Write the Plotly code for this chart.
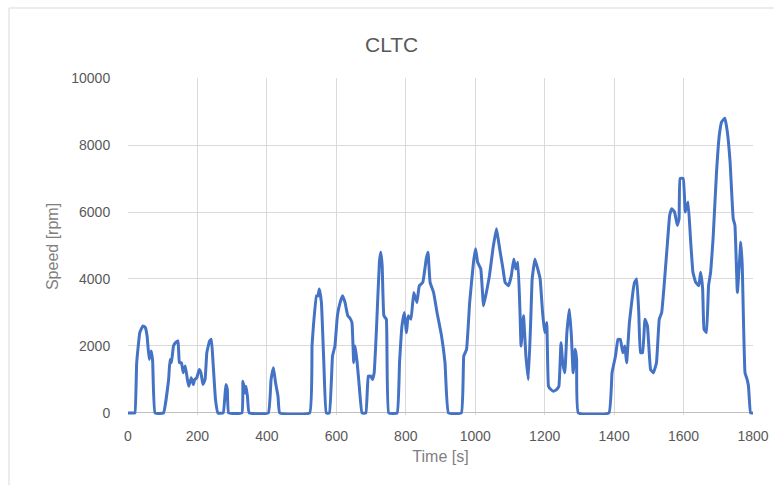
import plotly.graph_objects as go

time_s = [0, 15, 20, 25, 34, 43, 50, 55, 61, 67, 71, 78, 102,
          117, 121, 125, 131, 137, 144, 148, 154, 159, 165, 171, 175, 182, 188, 192, 198,
          205, 210, 216, 222, 227, 235, 240, 245, 252, 259, 274, 282, 286, 290,
          328, 331, 337, 340, 344, 349, 404, 412, 419, 425, 432, 437,
          523, 530, 534, 543, 547, 551, 557, 564, 571, 580, 589, 596, 603, 611, 618, 625,
          633, 638, 645, 650, 654, 660, 666, 674, 685, 692, 699, 704, 709, 716, 724, 728,
          732, 737, 744, 751, 775, 782, 789, 796, 802, 807, 815, 823, 832, 839, 849, 859,
          864, 870, 880, 890, 903, 913, 923, 960, 967, 975, 984, 995, 1001, 1007, 1016,
          1024, 1034, 1041, 1051, 1061, 1066, 1072, 1080, 1086, 1096, 1104, 1111, 1117,
          1123, 1129, 1132, 1139, 1146, 1153, 1160, 1164, 1172, 1180, 1187, 1194, 1200,
          1206, 1211, 1218, 1225, 1234, 1241, 1247, 1252, 1258, 1264, 1271, 1277, 1282,
          1288, 1292, 1297, 1385, 1394, 1404, 1411, 1418, 1425, 1431, 1436, 1444, 1454,
          1459, 1465, 1471, 1476, 1482, 1489, 1496, 1505, 1513, 1522, 1530, 1537, 1544,
          1553, 1560, 1566, 1574, 1582, 1587, 1590, 1599, 1605, 1613, 1620, 1627, 1635,
          1644, 1649, 1655, 1659, 1666, 1672, 1678, 1685, 1695, 1703, 1710, 1719, 1726,
          1734, 1743, 1748, 1755, 1765, 1769, 1777, 1783, 1787, 1793, 1800]

speed_rpm = [0, 0, 0, 1500, 2400, 2600, 2550, 2300, 1600, 1850, 1550, 0, 0,
             1000, 1600, 1500, 2000, 2100, 2150, 1500, 1500, 1200, 1400, 1000, 800, 1050, 850, 1000, 1050,
             1300, 1200, 850, 1000, 1800, 2150, 2200, 1500, 400, 0, 0, 850, 700, 0,
             0, 950, 600, 800, 500, 0, 0, 1000, 1350, 900, 500, 0,
             0, 2000, 2600, 3500, 3500, 3700, 3300, 1500, 0, 0, 1700, 2000, 2900, 3300, 3500, 3300,
             2900, 2850, 2700, 1500, 2000, 1500, 800, 0, 0, 1100, 1100, 1000, 1200, 2600, 4500, 4800,
             4400, 2900, 2800, 0, 0, 1500, 2600, 3000, 2400, 2900, 2800, 3600, 3300, 3800, 3900, 4600,
             4800, 3900, 3600, 3000, 2300, 1500, 0, 0, 1700, 1900, 3300, 4500, 4900, 4500, 4300,
             3200, 3700, 4100, 4900, 5500, 5200, 4800, 4300, 3900, 3800, 4100, 4600, 4300,
             4500, 3000, 2000, 2900, 1700, 1000, 2800, 4000, 4600, 4300, 4000, 3000, 2400,
             2700, 800, 700, 650, 700, 800, 2100, 1500, 1200, 2400, 3100, 2300, 1200,
             1900, 1600, 0, 0, 1200, 1700, 2200, 2200, 1800, 2000, 1500, 2700, 3600,
             3900, 4000, 3000, 1800, 1800, 2800, 2600, 1300, 1200, 1500, 2800, 3000, 3800,
             5000, 5900, 6100, 6000, 5600, 5800, 7000, 7000, 6000, 6300, 5200, 4200, 3900,
             3800, 4200, 3700, 2500, 2400, 3800, 4200, 5200, 7200, 8300, 8700, 8800, 8400,
             7500, 5800, 5600, 3600, 5100, 4400, 1200, 1000, 800, 0, 0]

x_ticks = [0, 200, 400, 600, 800, 1000, 1200, 1400, 1600, 1800]
y_ticks = [0, 2000, 4000, 6000, 8000, 10000]

fig = go.Figure()
fig.add_trace(go.Scatter(
    x=time_s, y=speed_rpm, mode="lines",
    line=dict(color="#4472C4", width=3, shape="spline", smoothing=0.3),
    showlegend=False, hoverinfo="skip",
))

W, H = 774, 485
L, R, T, B = 128, 21, 78, 70
fig.update_layout(
    width=W, height=H,
    margin=dict(l=L, r=R, t=T, b=B, pad=0, autoexpand=False),
    paper_bgcolor="white", plot_bgcolor="white",
    font=dict(family="Liberation Sans, Arial, sans-serif", color="#595959"),
    title=dict(text="CLTC", x=0.506, xref="container", xanchor="center",
               y=1 - 45 / H, yref="container", yanchor="middle",
               font=dict(size=21, color="#595959")),
    xaxis=dict(
        range=[0, 1800], tickvals=x_ticks, ticktext=[str(v) for v in x_ticks],
        showgrid=True, gridcolor="#d9d9d9", gridwidth=1,
        zeroline=False, showline=False, ticks="outside", ticklen=8, tickcolor="rgba(0,0,0,0)",
        tickfont=dict(size=14, color="#595959"),
        title=dict(text="Time [s]", font=dict(size=16, color="#7f7f7f"), standoff=8),
        automargin=False, fixedrange=True,
    ),
    yaxis=dict(
        range=[-60, 10000], tickvals=y_ticks, ticktext=[str(v) for v in y_ticks],
        showgrid=True, gridcolor="#d9d9d9", gridwidth=1,
        zeroline=True, zerolinecolor="#bfbfbf", zerolinewidth=1,
        showline=False, ticks="outside", ticklen=14, tickcolor="rgba(0,0,0,0)",
        tickfont=dict(size=14, color="#595959"),
        title=dict(text="Speed [rpm]", font=dict(size=16, color="#7f7f7f"), standoff=8),
        automargin=False, fixedrange=True,
    ),
    shapes=[dict(type="rect", xref="paper", yref="paper",
                 x0=(9 - L) / (W - L - R), x1=1 + (790 - (W - R)) / (W - L - R),
                 y0=-(B + 30) / (H - T - B), y1=1 + (T - 8) / (H - T - B),
                 line=dict(color="#d9d9d9", width=1), fillcolor="rgba(0,0,0,0)",
                 layer="below")],
)

fig.write_html(
    "out.html",
    config={"displayModeBar": False, "staticPlot": True},
    post_script="document.body.style.margin='0';document.body.style.padding='0';",
)
